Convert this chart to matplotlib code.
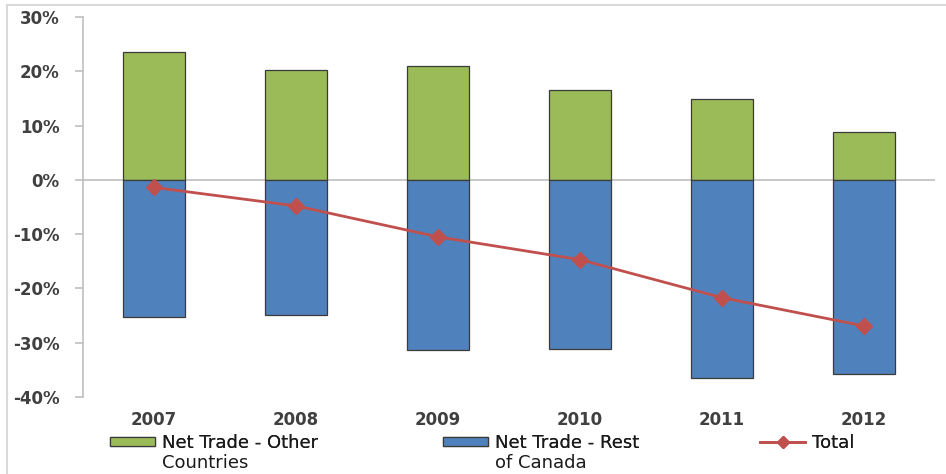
import matplotlib
matplotlib.use("Agg")
import matplotlib.pyplot as plt
from matplotlib.patches import Rectangle
from matplotlib.ticker import FuncFormatter

years = ["2007", "2008", "2009", "2010", "2011", "2012"]
other_countries = [23.6, 20.3, 21.0, 16.6, 14.9, 8.9]
rest_of_canada = [-25.2, -24.9, -31.3, -31.1, -36.5, -35.7]
total = [-1.4, -4.8, -10.5, -14.7, -21.7, -26.9]

green = "#9BBB59"
blue = "#4F81BD"
red = "#C0504D"
grey_text = "#404040"

fig = plt.figure(figsize=(9.46, 4.74), dpi=100)
ax = fig.add_axes([83 / 946, 1 - 397 / 474, (935 - 83) / 946, (397 - 17) / 474])

x = list(range(len(years)))
b_green = ax.bar(x, other_countries, width=0.44, color=green,
                 edgecolor="#3a3a3a", linewidth=0.9, zorder=2)
b_blue = ax.bar(x, rest_of_canada, width=0.44, color=blue,
                edgecolor="#3a3a3a", linewidth=0.9, zorder=2)
ax.axhline(0, color="#BFBFBF", linewidth=1.2, zorder=1)
line, = ax.plot(x, total, color=red, linewidth=2, marker="D",
                markersize=8, zorder=3)

ax.set_xlim(-0.5, len(years) - 0.5)
ax.set_ylim(-40, 30)
ax.set_yticks(range(-40, 31, 10))
ax.yaxis.set_major_formatter(FuncFormatter(lambda v, p: f"{v:.0f}%"))
ax.set_xticks(x)
ax.set_xticklabels(years)

for s in ["top", "right", "bottom"]:
    ax.spines[s].set_visible(False)
ax.spines["left"].set_color("#BFBFBF")
ax.spines["left"].set_linewidth(1.2)
ax.tick_params(axis="y", length=6, color="#BFBFBF", width=1.2, pad=11)
ax.tick_params(axis="x", length=0, pad=10)
for lab in ax.get_yticklabels() + ax.get_xticklabels():
    lab.set_fontfamily("DejaVu Sans")
    lab.set_fontweight("bold")
    lab.set_fontsize(12)
    lab.set_color(grey_text)

# legend entries along the bottom; second line of label added as text
entries = [
    (b_green, "Net Trade - Other", "Countries", 110),
    (b_blue, "Net Trade - Rest", "of Canada", 443),
    (line, "Total", None, 760),
]
legends = []
for handle, label, second, xpos in entries:
    leg = fig.legend([handle], [label], loc="center left",
                     bbox_to_anchor=(xpos / 946, 1 - 443 / 474),
                     frameon=False, handlelength=2.5, handleheight=0.4,
                     handletextpad=0.4, borderaxespad=0, borderpad=0,
                     prop={"family": "DejaVu Sans", "size": 13})
    for t in leg.get_texts():
        t.set_color("#1a1a1a")
    for h in leg.legend_handles:
        if hasattr(h, "set_markersize"):
            h.set_markersize(6)
    fig.add_artist(leg)
    legends.append((leg, second))

fig.canvas.draw()
for leg, second in legends:
    if second is None:
        continue
    bb = leg.get_texts()[0].get_window_extent()
    fig.text(bb.x0 / 946, (bb.y0 + bb.y1) / 2 / 474 - 20 / 474, second,
             ha="left", va="center", family="DejaVu Sans", size=13,
             color="#1a1a1a")

fig.patches.append(Rectangle((7 / 946, -0.1), 1.1, 1.1 - 5 / 474,
                             transform=fig.transFigure, fill=False,
                             edgecolor="#D9D9D9", linewidth=1.5))

fig.savefig("out.png", dpi=100)
